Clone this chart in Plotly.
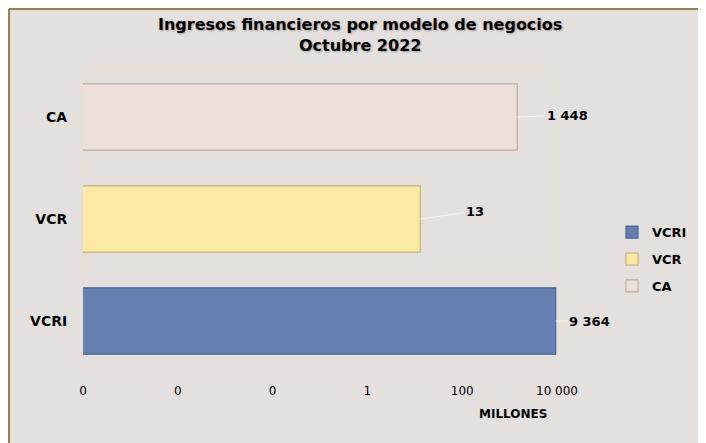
import numpy as np
import plotly.graph_objects as go

# Datos (millones)
categorias = ['VCRI', 'VCR', 'CA']
valores = [9364, 13, 1448]
etiquetas = ['9 364', '13', '1 448']
colores = ['#6480B0', '#FDEBA5', '#EDDFD9']
bordes = ['#4B6390', '#C2B276', '#C0ABA5']

tick_vals = [1e-6, 1e-4, 1e-2, 1, 100, 10000]
tick_text = ['0', '0', '0', '1', '100', '10 000']

# desplazamiento de las etiquetas (px) respecto al final de la barra
desplaz = {'VCRI': (34, 0), 'VCR': (55, -8), 'CA': (50, -2)}

fondo = '#E3E0DD'
fuente = 'DejaVu Sans'

fig = go.Figure()
for cat, val, col, bor in zip(categorias, valores, colores, bordes):
    fig.add_trace(go.Bar(
        y=[cat], x=[val], orientation='h', name=cat,
        marker=dict(color=col, line=dict(color=bor, width=1.2)),
        width=0.65, legendgroup=cat,
    ))

# etiquetas de datos con linea guia
for cat, val, txt in zip(categorias, valores, etiquetas):
    ax, ay = desplaz[cat]
    fig.add_annotation(
        x=np.log10(val), y=cat, xref='x', yref='y', text='<b>' + txt + '</b>',
        showarrow=True, arrowhead=0, arrowwidth=1, arrowcolor='#F6F6F6',
        ax=ax, ay=ay, font=dict(family=fuente, size=13, color='black'),
        standoff=0, startstandoff=0,
    )

# titulo
fig.add_annotation(
    x=0.584, y=1.1, xref='paper', yref='paper', xanchor='center', yanchor='middle',
    text='<b>Ingresos financieros por modelo de negocios<br>Octubre 2022</b>',
    showarrow=False,
    font=dict(family=fuente, size=16, color='black',
              shadow='1px 1px 2px rgba(0,0,0,0.3)'),
)

# titulo del eje
fig.add_annotation(
    x=0.907, y=-0.137, xref='paper', yref='paper', xanchor='center', yanchor='middle',
    text='<b>MILLONES</b>', showarrow=False,
    font=dict(family=fuente, size=12, color='black'),
)

# la pagina deja 8px de margen, se compensa con el tamano
fig.update_layout(
    width=698, height=435,
    margin=dict(l=75, r=149, t=58, b=71, autoexpand=False),
    paper_bgcolor=fondo, plot_bgcolor=fondo,
    barmode='overlay',
    legend=dict(
        x=1.116, y=0.506, xanchor='left', yanchor='top',
        font=dict(family=fuente, size=13, color='black', weight='bold'),
        traceorder='grouped', tracegroupgap=7, itemwidth=30,
        bgcolor='rgba(0,0,0,0)',
    ),
    xaxis=dict(
        type='log', range=[-6, 4], tickvals=tick_vals, ticktext=tick_text,
        showgrid=False, zeroline=False, showline=True, mirror=True,
        linecolor='#EBDCCD', linewidth=1,
        ticks='outside', ticklen=8, tickcolor='rgba(0,0,0,0)',
        tickfont=dict(family=fuente, size=12, color='black'),
    ),
    yaxis=dict(
        categoryorder='array', categoryarray=categorias,
        showgrid=False, zeroline=False, showline=True, mirror=True,
        linecolor='#EBDCCD', linewidth=1,
        ticks='outside', ticklen=12, tickcolor='rgba(0,0,0,0)',
        tickfont=dict(family=fuente, size=14, color='black', weight='bold'),
    ),
)

# marco exterior (solo izquierda y arriba visibles)
fig.add_shape(type='line', xref='paper', yref='paper',
              x0=-0.1561, x1=-0.1561, y0=1.1863, y1=-0.3,
              line=dict(color='#A27A55', width=2), layer='above')
fig.add_shape(type='line', xref='paper', yref='paper',
              x0=-0.1561, x1=1.314, y0=1.1863, y1=1.1863,
              line=dict(color='#A27A55', width=2), layer='above')

fig.write_html('out.html')
